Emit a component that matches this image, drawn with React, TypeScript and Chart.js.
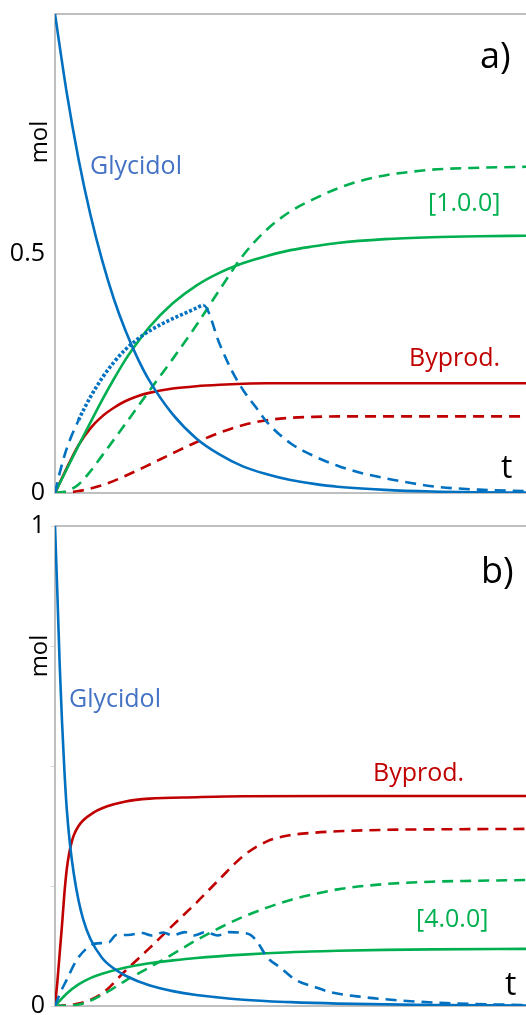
import React, { useEffect, useRef } from "react";
import { Chart, registerables } from "chart.js";
Chart.register(...registerables);

const BLUE = "#0070C0";
const GREEN = "#00B050";
const RED = "#C00000";
const LABEL_BLUE = "#4472C4";
const AXIS = "#bfbfbf";
const FONT = "'Open Sans', 'Noto Sans', sans-serif";

// ---------- Panel a) ----------
const aT = [0, 0.25, 0.5, 0.75, 1, 1.25, 1.5, 1.75, 2, 2.5, 3, 3.5, 4, 4.5, 5, 5.5, 6, 7, 8, 9, 10];
const aGlycidol = [1.0, 0.835, 0.697, 0.582, 0.486, 0.405, 0.338, 0.282, 0.235, 0.164, 0.114, 0.08, 0.055, 0.039, 0.027, 0.019, 0.013, 0.0065, 0.003, 0.0015, 0.0007];
const aGreenSolid = [0, 0.05, 0.099, 0.147, 0.194, 0.238, 0.279, 0.314, 0.346, 0.396, 0.433, 0.46, 0.48, 0.495, 0.507, 0.515, 0.522, 0.53, 0.534, 0.536, 0.537];
const aRedSolid = [0, 0.052, 0.1, 0.135, 0.16, 0.178, 0.192, 0.202, 0.209, 0.218, 0.223, 0.226, 0.228, 0.229, 0.229, 0.229, 0.229, 0.229, 0.229, 0.229, 0.229];

const aBlueDashT = [0, 0.1, 0.25, 0.5, 0.75, 1, 1.25, 1.5, 1.75, 2, 2.25, 2.5, 2.75, 3, 3.15, 3.5, 3.75, 4, 4.25, 4.5, 5, 5.5, 6, 6.5, 7, 7.5, 8, 9, 10];
const aBlueDash = [0, 0.042, 0.093, 0.152, 0.2, 0.24, 0.273, 0.3, 0.321, 0.338, 0.352, 0.364, 0.375, 0.386, 0.392, 0.31, 0.256, 0.214, 0.181, 0.148, 0.104, 0.077, 0.057, 0.042, 0.031, 0.022, 0.014, 0.007, 0.004];

const aGreenDashT = [0, 0.25, 0.5, 0.75, 1, 1.5, 2, 2.5, 3, 3.5, 4, 4.5, 5, 5.5, 6, 6.5, 7, 7.5, 8, 9, 10];
const aGreenDash = [0, 0.004, 0.018, 0.045, 0.078, 0.145, 0.213, 0.28, 0.35, 0.425, 0.497, 0.55, 0.588, 0.614, 0.636, 0.652, 0.663, 0.67, 0.675, 0.679, 0.681];

const aRedDashT = [0, 0.5, 1, 1.5, 2, 2.5, 3, 3.5, 4, 4.5, 5, 5.5, 6, 7, 8, 10];
const aRedDash = [0, 0.004, 0.016, 0.036, 0.059, 0.083, 0.106, 0.126, 0.142, 0.152, 0.157, 0.159, 0.16, 0.16, 0.16, 0.16];

const aTickLabels: Record<string, string> = { "0": "0", "0.5": "0.5" };

// ---------- Panel b) ----------
const bGlyT = [0, 0.05, 0.1, 0.15, 0.2, 0.25, 0.32, 0.4, 0.5, 0.6, 0.75, 1, 1.25, 1.5, 2, 2.5, 3, 4, 5, 6, 8, 10];
const bGlycidol = [1.0, 0.86, 0.71, 0.59, 0.49, 0.41, 0.335, 0.275, 0.22, 0.18, 0.14, 0.1, 0.078, 0.063, 0.043, 0.031, 0.023, 0.013, 0.008, 0.005, 0.002, 0.001];

const bRedSolidT = [0, 0.05, 0.1, 0.15, 0.2, 0.25, 0.3, 0.35, 0.4, 0.5, 0.6, 0.8, 1, 1.5, 2, 3, 4, 6, 10];
const bRedSolid = [0, 0.05, 0.11, 0.17, 0.235, 0.285, 0.318, 0.34, 0.356, 0.375, 0.387, 0.402, 0.412, 0.426, 0.432, 0.435, 0.437, 0.4375, 0.4375];

const bGreenSolidT = [0, 0.25, 0.5, 0.75, 1, 1.5, 2, 2.5, 3, 4, 5, 6, 7, 8, 10];
const bGreenSolid = [0, 0.026, 0.045, 0.058, 0.067, 0.08, 0.089, 0.095, 0.1, 0.107, 0.112, 0.115, 0.117, 0.118, 0.119];

const bGreenDashT = [0, 0.5, 1, 1.5, 2, 2.5, 3, 3.5, 4, 4.5, 5, 5.5, 6, 7, 8, 9, 10];
const bGreenDash = [0, 0.003, 0.023, 0.053, 0.08, 0.108, 0.137, 0.163, 0.186, 0.205, 0.221, 0.233, 0.243, 0.254, 0.259, 0.261, 0.2625];

const bRedDashT = [0, 0.5, 1, 1.5, 2, 2.5, 3, 3.5, 4, 4.5, 5, 5.5, 6, 7, 8, 10];
const bRedDash = [0, 0.005, 0.026, 0.074, 0.12, 0.168, 0.215, 0.265, 0.313, 0.343, 0.356, 0.361, 0.364, 0.367, 0.368, 0.369];

const bBlueDashT = [0, 0.1, 0.25, 0.45, 0.65, 0.85, 1.15, 1.3, 1.55, 1.85, 2.05, 2.3, 2.5, 2.75, 2.95, 3.2, 3.45, 3.7, 3.9, 4.15, 4.3, 4.5, 4.8, 5.1, 5.5, 5.85, 6.5, 7.2, 8.3, 10];
const bBlueDash = [0, 0.025, 0.055, 0.094, 0.118, 0.13, 0.133, 0.148, 0.148, 0.152, 0.147, 0.153, 0.147, 0.154, 0.147, 0.154, 0.147, 0.154, 0.153, 0.148, 0.133, 0.102, 0.079, 0.055, 0.04, 0.029, 0.019, 0.0125, 0.006, 0.002];

const bTickLabels: Record<string, string> = { "0": "0", "1": "1" };

const T_MAX = 10;

type Lbl = { text: string; x: number; y: number; color: string; size: number; rotate?: boolean };

const aTexts: Lbl[] = [
  { text: "mol", x: 47, y: 142, color: "#000", size: 24, rotate: true },
  { text: "Glycidol", x: 90, y: 174, color: LABEL_BLUE, size: 25 },
  { text: "[1.0.0]", x: 428, y: 211, color: GREEN, size: 25 },
  { text: "Byprod.", x: 409, y: 366, color: RED, size: 25 },
  { text: "a)", x: 480, y: 68, color: "#000", size: 36 },
  { text: "t", x: 501, y: 478, color: "#000", size: 32 },
];

const bTexts: Lbl[] = [
  { text: "mol", x: 47, y: 149, color: "#000", size: 24, rotate: true },
  { text: "Glycidol", x: 69, y: 200, color: LABEL_BLUE, size: 25 },
  { text: "Byprod.", x: 373, y: 274, color: RED, size: 25 },
  { text: "[4.0.0]", x: 416, y: 420, color: GREEN, size: 25 },
  { text: "b)", x: 481, y: 76, color: "#000", size: 36 },
  { text: "t", x: 505, y: 488, color: "#000", size: 32 },
];

function pts(t: number[], v: number[]) {
  return t.map((x, i) => ({ x, y: v[i] }));
}

const DASH = [11, 7];
const DOT = [3, 2];

function line(label: string, data: any[], color: string, dashed: boolean, extra: any = {}) {
  return {
    label,
    data,
    borderColor: color,
    backgroundColor: color,
    borderWidth: 2.6,
    borderDash: dashed ? DASH : [],
    borderCapStyle: "butt",
    borderJoinStyle: "round",
    pointRadius: 0,
    fill: false,
    cubicInterpolationMode: "monotone",
    ...extra,
  };
}

function textPlugin(labels: Lbl[]) {
  return {
    id: "texts",
    afterDraw(chart: any) {
      const ctx = chart.ctx as CanvasRenderingContext2D;
      ctx.save();
      for (const l of labels) {
        ctx.save();
        ctx.fillStyle = l.color;
        ctx.font = `${l.size}px ${FONT}`;
        ctx.textBaseline = "alphabetic";
        if (l.rotate) {
          ctx.translate(l.x, l.y);
          ctx.rotate(-Math.PI / 2);
          ctx.textAlign = "center";
          ctx.fillText(l.text, 0, 0);
        } else {
          ctx.textAlign = "left";
          ctx.fillText(l.text, l.x, l.y);
        }
        ctx.restore();
      }
      ctx.restore();
    },
  };
}

const zeroPad = (s: any) => {
  s.paddingTop = 0;
  s.paddingBottom = 0;
  s.paddingLeft = 0;
  s.paddingRight = 0;
};

function makeConfig(panel: "a" | "b"): any {
  const isA = panel === "a";
  const isDotted = (c: any) => c.p0.parsed.x >= 0.5 && c.p1.parsed.x <= 3.16;
  const datasets = isA
    ? [
        line("Glycidol", pts(aT, aGlycidol), BLUE, false),
        line("Glycidol (dashed)", pts(aBlueDashT, aBlueDash), BLUE, true, {
          segment: {
            borderDash: (c: any) => (isDotted(c) ? DOT : DASH),
            borderWidth: (c: any) => (isDotted(c) ? 3.6 : 2.6),
          },
        }),
        line("[1.0.0]", pts(aT, aGreenSolid), GREEN, false),
        line("[1.0.0] (dashed)", pts(aGreenDashT, aGreenDash), GREEN, true),
        line("Byprod.", pts(aT, aRedSolid), RED, false),
        line("Byprod. (dashed)", pts(aRedDashT, aRedDash), RED, true),
      ]
    : [
        line("Glycidol", pts(bGlyT, bGlycidol), BLUE, false),
        line("Glycidol (dashed)", pts(bBlueDashT, bBlueDash), BLUE, true),
        line("[4.0.0]", pts(bGreenSolidT, bGreenSolid), GREEN, false),
        line("[4.0.0] (dashed)", pts(bGreenDashT, bGreenDash), GREEN, true),
        line("Byprod.", pts(bRedSolidT, bRedSolid), RED, false),
        line("Byprod. (dashed)", pts(bRedDashT, bRedDash), RED, true),
      ];
  const tickMap = isA ? aTickLabels : bTickLabels;
  const hAxis = (position: string) => ({
    type: "linear",
    position,
    min: 0,
    max: T_MAX,
    ticks: { display: false },
    grid: { display: false, drawTicks: false },
    border: { display: true, color: AXIS, width: 2 },
    afterFit: (s: any) => {
      s.height = 0;
      zeroPad(s);
    },
  });
  return {
    type: "line",
    data: { datasets },
    options: {
      animation: false,
      responsive: false,
      devicePixelRatio: 1,
      layout: { padding: isA ? { top: 14, bottom: 14, left: 0, right: 0 } : { top: 19, bottom: 9, left: 0, right: 0 } },
      plugins: { legend: { display: false }, tooltip: { enabled: false } },
      scales: {
        x: hAxis("bottom"),
        x2: hAxis("top"),
        y: {
          type: "linear",
          min: 0,
          max: 1,
          ticks: {
            stepSize: isA ? 0.5 : 0.25,
            autoSkip: false,
            padding: isA ? 10 : 6,
            color: "#000",
            font: { family: FONT, size: 25 },
            callback: (v: any) => tickMap[String(v)] ?? "",
          },
          grid: isA
            ? { display: false, drawTicks: false }
            : { display: true, drawOnChartArea: false, drawTicks: true, tickLength: 4, color: "#d9d9d9" },
          border: { display: true, color: AXIS, width: 2 },
          afterFit: (s: any) => {
            s.width = 55;
            zeroPad(s);
          },
        },
      },
    },
    plugins: [textPlugin(isA ? aTexts : bTexts)],
  };
}

function Panel({ panel, top, height }: { panel: "a" | "b"; top: number; height: number }) {
  const ref = useRef<HTMLCanvasElement | null>(null);
  useEffect(() => {
    if (!ref.current) return;
    const chart = new Chart(ref.current, makeConfig(panel));
    return () => chart.destroy();
  }, [panel]);
  return (
    <canvas
      ref={ref}
      width={526}
      height={height}
      style={{ position: "absolute", left: 0, top, width: 526, height }}
    />
  );
}

export default function App() {
  return (
    <div style={{ position: "absolute", left: 0, top: 0, width: 526, height: 1015, background: "#fff", overflow: "hidden" }}>
      <Panel panel="a" top={0} height={507} />
      <Panel panel="b" top={507} height={508} />
    </div>
  );
}
